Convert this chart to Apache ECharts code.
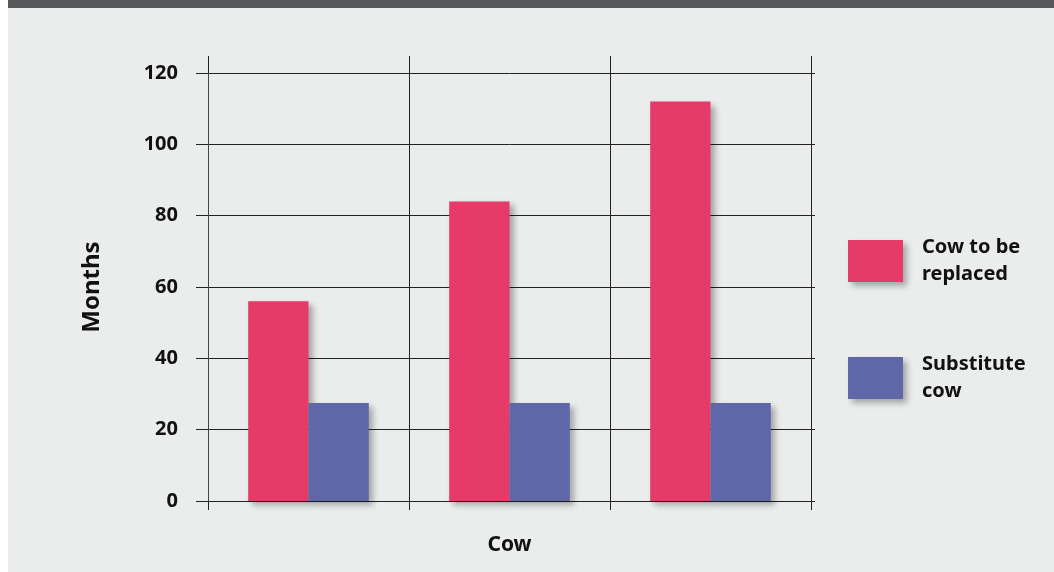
<!DOCTYPE html>
<html>
<head>
<meta charset="utf-8">
<script src="https://cdn.jsdelivr.net/npm/echarts@6/dist/echarts.min.js"></script>
<style>
    body { margin: 0; background: #ffffff; }
    #topbar { position: absolute; left: 8px; top: 0; width: 1046px; height: 8px; background: #58585a; }
    #main { position: absolute; left: 8px; top: 8px; width: 1046px; height: 564px; }
</style>
</head>
<body>
<div id="topbar"></div>
<div id="main"></div>
<script>
    // data
    const categories = ['1', '2', '3'];
    const replacedCow = [56, 84, 112];
    const substituteCow = [27.5, 27.5, 27.5];
    const seriesNames = ['Cow to be replaced', 'Substitute cow'];

    const lineColor = '#222';
    const font = '"Noto Sans", sans-serif';
    const barShadow = {
        shadowBlur: 6,
        shadowOffsetX: 4,
        shadowOffsetY: 4,
        shadowColor: 'rgba(0, 0, 0, 0.3)'
    };

    const myChart = echarts.init(document.getElementById('main'));
    myChart.setOption({
        backgroundColor: '#ebecec',
        textStyle: { fontFamily: font },
        grid: { left: 200, right: 243, top: 65, bottom: 71 },
        legend: {
            orient: 'vertical',
            left: 835,
            top: 221,
            itemWidth: 55,
            itemHeight: 42,
            itemGap: 63,
            icon: 'rect',
            itemStyle: barShadow,
            formatter: function (name) {
                return name === seriesNames[0] ? 'Cow to be\nreplaced' : 'Substitute\ncow';
            },
            textStyle: {
                fontSize: 20,
                fontWeight: 'bold',
                color: '#111',
                lineHeight: 27,
                padding: [0, 0, 0, 14]
            }
        },
        xAxis: [
            {
                type: 'category',
                data: categories,
                name: 'Cow',
                nameLocation: 'middle',
                nameGap: 34,
                nameTextStyle: { fontSize: 21, fontWeight: 'bold', color: '#111' },
                axisLine: { show: true, lineStyle: { color: lineColor } },
                axisTick: { show: true, length: 9, lineStyle: { color: lineColor } },
                axisLabel: { show: false },
                splitLine: { show: true, lineStyle: { color: lineColor, width: 1 } }
            },
            {
                // top ticks so the vertical lines run above the plot
                type: 'category',
                data: categories,
                position: 'top',
                axisLine: { show: true, onZero: false, lineStyle: { color: lineColor, opacity: 0 } },
                axisTick: { show: true, length: 17, lineStyle: { color: lineColor } },
                axisLabel: { show: false },
                splitLine: { show: false }
            }
        ],
        yAxis: [
            {
                type: 'value',
                min: 0,
                max: 120,
                interval: 20,
                name: 'Months',
                nameLocation: 'middle',
                nameGap: 104,
                nameTextStyle: { fontSize: 24, fontWeight: 'bold', color: '#111' },
                axisLine: { show: true, lineStyle: { color: '#444' } },
                axisTick: { show: true, length: 12, lineStyle: { color: lineColor } },
                axisLabel: { margin: 30, fontSize: 20, fontWeight: 'bold', color: '#111' },
                splitLine: { show: true, lineStyle: { color: lineColor, width: 1 } }
            },
            {
                // short ticks on the right so the grid lines poke out
                type: 'value',
                min: 0,
                max: 120,
                interval: 20,
                position: 'right',
                axisLine: { show: true, onZero: false, lineStyle: { color: lineColor, opacity: 0 } },
                axisTick: { show: true, length: 4, lineStyle: { color: lineColor } },
                axisLabel: { show: false },
                splitLine: { show: false }
            }
        ],
        series: [
            {
                name: seriesNames[0],
                type: 'bar',
                barWidth: '30%',
                barGap: '0%',
                data: replacedCow,
                itemStyle: Object.assign({ color: '#e63a68' }, barShadow)
            },
            {
                name: seriesNames[1],
                type: 'bar',
                barWidth: '30%',
                barGap: '0%',
                data: substituteCow,
                itemStyle: Object.assign({ color: '#5f67a8' }, barShadow)
            }
        ]
    });
</script>
</body>
</html>
